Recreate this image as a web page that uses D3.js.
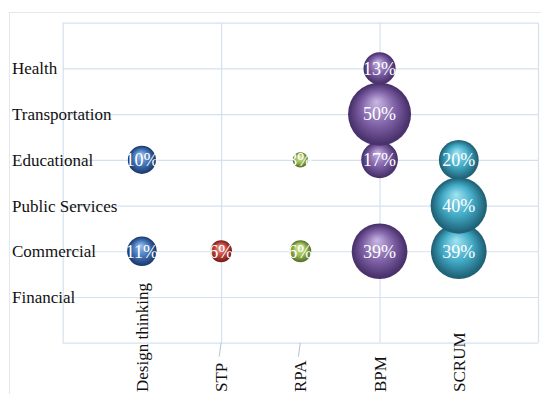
<!DOCTYPE html>
<html>
<head>
    <title>Bubble chart - techniques by sector</title>
    <script type="text/javascript" src="https://cdn.jsdelivr.net/npm/d3@7"></script>
    <style>
        body { margin: 0; background: white; }
        .serif { font-family: "Liberation Serif", "DejaVu Serif", serif; }
    </style>
</head>
<body>
<script type="text/javascript">
    // categories
    var techniques = ['Design thinking', 'STP', 'RPA', 'BPM', 'SCRUM'];
    var sectors = ['Financial', 'Commercial', 'Public Services', 'Educational', 'Transportation', 'Health'];

    // values in %, one per sector (same order as sectors), null = no bubble
    var designThinking = [null, 11, null, 10, null, null];
    var stp = [null, 6, null, null, null, null];
    var rpa = [null, 6, null, 3, null, null];
    var bpm = [null, 39, null, 17, 50, 13];
    var scrum = [null, 39, 40, 20, null, null];

    var seriesValues = [designThinking, stp, rpa, bpm, scrum];
    var seriesColors = [
        { hi: '#a3c3ea', mid: '#4276bb', lo: '#1f3d70' },
        { hi: '#f0a9a6', mid: '#c4473f', lo: '#7a201c' },
        { hi: '#e2f1b8', mid: '#9dbd55', lo: '#5c762e' },
        { hi: '#c9b8e4', mid: '#7f61a6', lo: '#4a326d' },
        { hi: '#a0e4f2', mid: '#42aac6', lo: '#206378' }
    ];

    var width = 541;
    var height = 394;
    var plot = { left: 62.7, right: 538, top: 22.7, bottom: 342.7 };

    var svg = d3.select('body').append('svg')
                .attr('width', width)
                .attr('height', height)
                .style('display', 'block');

    // outer chart border (runs off the picture to the right and bottom)
    svg.append('rect')
        .attr('x', 9.5).attr('y', 12.5)
        .attr('width', 600).attr('height', 420)
        .attr('fill', 'white')
        .attr('stroke', '#e4e7eb');

    var x = d3.scaleLinear().domain([0, 6]).range([plot.left, plot.right]);
    var y = d3.scaleLinear().domain([0, 7]).range([plot.bottom, plot.top]);
    var r = d3.scaleSqrt().domain([0, 50]).range([0, 31.5]);

    // gradients for the 3d look
    var defs = svg.append('defs');
    seriesColors.forEach(function(c, i) {
        var g = defs.append('radialGradient')
                    .attr('id', 'ball' + i)
                    .attr('cx', '50%').attr('cy', '50%').attr('r', '50%')
                    .attr('fx', '45%').attr('fy', '30%');
        g.append('stop').attr('offset', '0%').attr('stop-color', c.hi);
        g.append('stop').attr('offset', '55%').attr('stop-color', c.mid);
        g.append('stop').attr('offset', '95%').attr('stop-color', c.lo);
        g.append('stop').attr('offset', '100%').attr('stop-color', c.lo);
    });

    // gridlines
    var grid = svg.append('g').attr('class', 'grid');
    grid.append('g')
        .attr('transform', 'translate(0,' + plot.bottom + ')')
        .call(d3.axisBottom(x).tickValues([0, 2, 4, 6]).tickSize(-(plot.bottom - plot.top)).tickFormat(''));
    grid.append('g')
        .attr('transform', 'translate(' + plot.left + ',0)')
        .call(d3.axisLeft(y).tickValues(d3.range(0, 8)).tickSize(-(plot.right - plot.left)).tickFormat(''));
    grid.selectAll('.domain').remove();
    grid.selectAll('line')
        .attr('stroke', '#d5e1ef')
        .attr('stroke-width', 1.2);

    // sector labels on the left
    svg.append('g').attr('class', 'ylabels serif')
        .selectAll('text')
        .data(sectors).enter()
        .append('text')
        .attr('x', 12)
        .attr('y', function(d, i) { return y(i + 1); })
        .attr('dy', '0.35em')
        .style('font-size', '17px')
        .attr('fill', '#111')
        .text(function(d) { return d; });

    // technique labels, rotated
    var labelBase = 392;
    svg.append('g').attr('class', 'xlabels serif')
        .selectAll('text')
        .data(techniques).enter()
        .append('text')
        .attr('transform', function(d, i) {
            return 'translate(' + x(i + 1) + ',' + labelBase + ') rotate(-90)';
        })
        .attr('dy', '0.35em')
        .style('font-size', '17px')
        .attr('fill', '#111')
        .text(function(d) { return d; });

    // little leader lines under STP and RPA
    svg.append('g').attr('class', 'leaders')
        .selectAll('line')
        .data([1, 2]).enter()
        .append('line')
        .attr('x1', function(i) { return x(i + 1); })
        .attr('y1', plot.bottom)
        .attr('x2', function(i) { return x(i + 1) - 2; })
        .attr('y2', plot.bottom + 14)
        .attr('stroke', '#b3c4da')
        .attr('stroke-width', 1);

    // flatten to bubbles
    var bubbles = [];
    seriesValues.forEach(function(vals, s) {
        vals.forEach(function(v, k) {
            if (v !== null) {
                bubbles.push({ series: s, sector: k, value: v });
            }
        });
    });
    // small ones first so the big ones sit on top
    bubbles.sort(function(a, b) { return a.value - b.value; });

    svg.append('g').attr('class', 'bubbles')
        .selectAll('circle')
        .data(bubbles).enter()
        .append('circle')
        .attr('cx', function(d) { return x(d.series + 1); })
        .attr('cy', function(d) { return y(d.sector + 1); })
        .attr('r', function(d) { return r(d.value); })
        .attr('fill', function(d) { return 'url(#ball' + d.series + ')'; });

    svg.append('g').attr('class', 'bubbleLabels serif')
        .selectAll('text')
        .data(bubbles).enter()
        .append('text')
        .attr('x', function(d) { return x(d.series + 1); })
        .attr('y', function(d) { return y(d.sector + 1); })
        .attr('dy', '0.35em')
        .attr('text-anchor', 'middle')
        .style('font-size', '18px')
        .attr('fill', 'white')
        .text(function(d) { return d.value + '%'; });
</script>
</body>
</html>
